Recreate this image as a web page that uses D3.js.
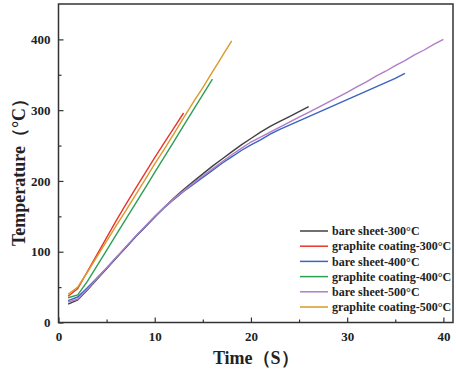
<!DOCTYPE html>
<html>
<head>
<meta charset="utf-8">
<script src="https://cdn.jsdelivr.net/npm/d3@7/dist/d3.min.js"></script>
<style>
  body { margin: 0; background: #fff; }
</style>
</head>
<body>
<svg id="chart" width="456" height="374"></svg>
<script>
// series: time (s) and temperature (°C)
const bare300T = d3.range(1, 27);
const bare300 = [26, 32, 46, 61, 76, 91, 106, 121, 135, 149, 163, 176, 188, 199, 210, 221, 231, 241, 251, 260, 269, 277, 284, 291, 298, 305];
const graph300T = d3.range(1, 14);
const graph300 = [37, 48, 72, 96, 120, 144, 167, 189, 211, 233, 254, 275, 296];
const bare400T = d3.range(1, 37);
const bare400 = [31, 36, 49, 63, 77, 92, 106, 121, 135, 149, 162, 174, 185, 195, 205, 215, 225, 234, 243, 251, 258, 266, 273, 279, 285, 291, 297, 303, 309, 315, 321, 327, 333, 339, 345, 352];
const graph400T = d3.range(1, 17);
const graph400 = [35, 39, 58, 80, 102, 124, 146, 168, 190, 212, 234, 256, 278, 300, 322, 344];
const bare500T = d3.range(1, 41);
const bare500 = [29, 33, 47, 62, 77, 92, 107, 122, 136, 150, 163, 175, 186, 197, 207, 217, 227, 237, 246, 255, 262, 269, 276, 283, 290, 297, 304, 311, 318, 325, 333, 340, 348, 355, 363, 370, 378, 385, 393, 400];
const graph500T = d3.range(1, 19);
const graph500 = [40, 50, 71, 93, 115, 137, 158, 180, 202, 224, 245, 267, 289, 311, 332, 354, 376, 398];

const seriesNames = ["bare sheet-300°C", "graphite coating-300°C", "bare sheet-400°C", "graphite coating-400°C", "bare sheet-500°C", "graphite coating-500°C"];
const seriesColors = ["#404040", "#e8352c", "#3b63c2", "#2f9e55", "#b07dc8", "#d99a2a"];
const xTicks = [0, 10, 20, 30, 40];
const yTicks = [0, 100, 200, 300, 400];

const series = [
    [bare300T, bare300], [graph300T, graph300],
    [bare400T, bare400], [graph400T, graph400],
    [bare500T, bare500], [graph500T, graph500],
].map(([ts, vs], i) => ({
    name: seriesNames[i],
    color: seriesColors[i],
    points: ts.map((t, j) => [t, vs[j]]),
}));

const serif = "'Liberation Serif', 'Times New Roman', Times, 'DejaVu Serif', serif";
const svg = d3.select("#chart").attr("font-family", serif).attr("font-weight", "bold");
const margin = { left: 58.5, right: 3, top: 4, bottom: 51.5 };
const W = 456, H = 374;

const x = d3.scaleLinear().domain([0, 41]).range([margin.left, W - margin.right]);
const y = d3.scaleLinear().domain([0, 450]).range([H - margin.bottom, margin.top]);

// lines
const line = d3.line().x(d => x(d[0])).y(d => y(d[1]));
svg.append("g")
    .selectAll("path")
    .data(series)
    .enter()
    .append("path")
    .attr("fill", "none")
    .attr("stroke", d => d.color)
    .attr("stroke-width", 1.4)
    .attr("d", d => line(d.points));

// axes with inward ticks
const axisColor = "#333";
const xAxis = svg.append("g").attr("transform", `translate(0,${y(0)})`)
    .call(d3.axisBottom(x).tickValues(d3.range(0, 41, 5)).tickSize(-5).tickPadding(9)
        .tickFormat(d => xTicks.includes(d) ? d : ""));
const yAxis = svg.append("g").attr("transform", `translate(${x(0)},0)`)
    .call(d3.axisLeft(y).tickValues(d3.range(0, 401, 50)).tickSize(-5).tickPadding(8)
        .tickFormat(d => yTicks.includes(d) ? d : ""));

[xAxis, yAxis].forEach(g => {
    g.attr("font-family", serif).attr("font-weight", "bold").attr("font-size", 13);
    g.select(".domain").remove();
    g.selectAll(".tick line").attr("stroke", axisColor).attr("stroke-width", 1.2);
    g.selectAll("text").attr("fill", "#222");
});
// minor ticks shorter
xAxis.selectAll(".tick").filter(d => d % 10 !== 0).select("line").attr("y2", -3);
yAxis.selectAll(".tick").filter(d => d % 100 !== 0).select("line").attr("x2", 3);

// frame
svg.append("rect")
    .attr("x", x(0)).attr("y", margin.top)
    .attr("width", x(41) - x(0)).attr("height", y(0) - margin.top)
    .attr("fill", "none").attr("stroke", axisColor).attr("stroke-width", 1.5);

// axis titles
svg.append("text")
    .attr("x", (x(0) + x(41)) / 2).attr("y", 364)
    .attr("text-anchor", "middle")
    .attr("font-size", 18)
    .attr("fill", "#222")
    .text("Time（S）");
svg.append("text")
    .attr("transform", `translate(25,168) rotate(-90)`)
    .attr("text-anchor", "middle")
    .attr("font-size", 18)
    .attr("fill", "#222")
    .text("Temperature（°C）");

// legend
const legend = svg.append("g").attr("transform", "translate(300,231)");
const item = legend.selectAll("g").data(series).enter().append("g")
    .attr("transform", (d, i) => `translate(0,${i * 15.2})`);
item.append("line").attr("x1", 0).attr("x2", 28)
    .attr("stroke", d => d.color).attr("stroke-width", 1.5);
item.append("text").attr("x", 32).attr("dy", "0.35em")
    .attr("font-size", 12)
    .attr("fill", "#222")
    .text(d => d.name);
</script>
</body>
</html>
